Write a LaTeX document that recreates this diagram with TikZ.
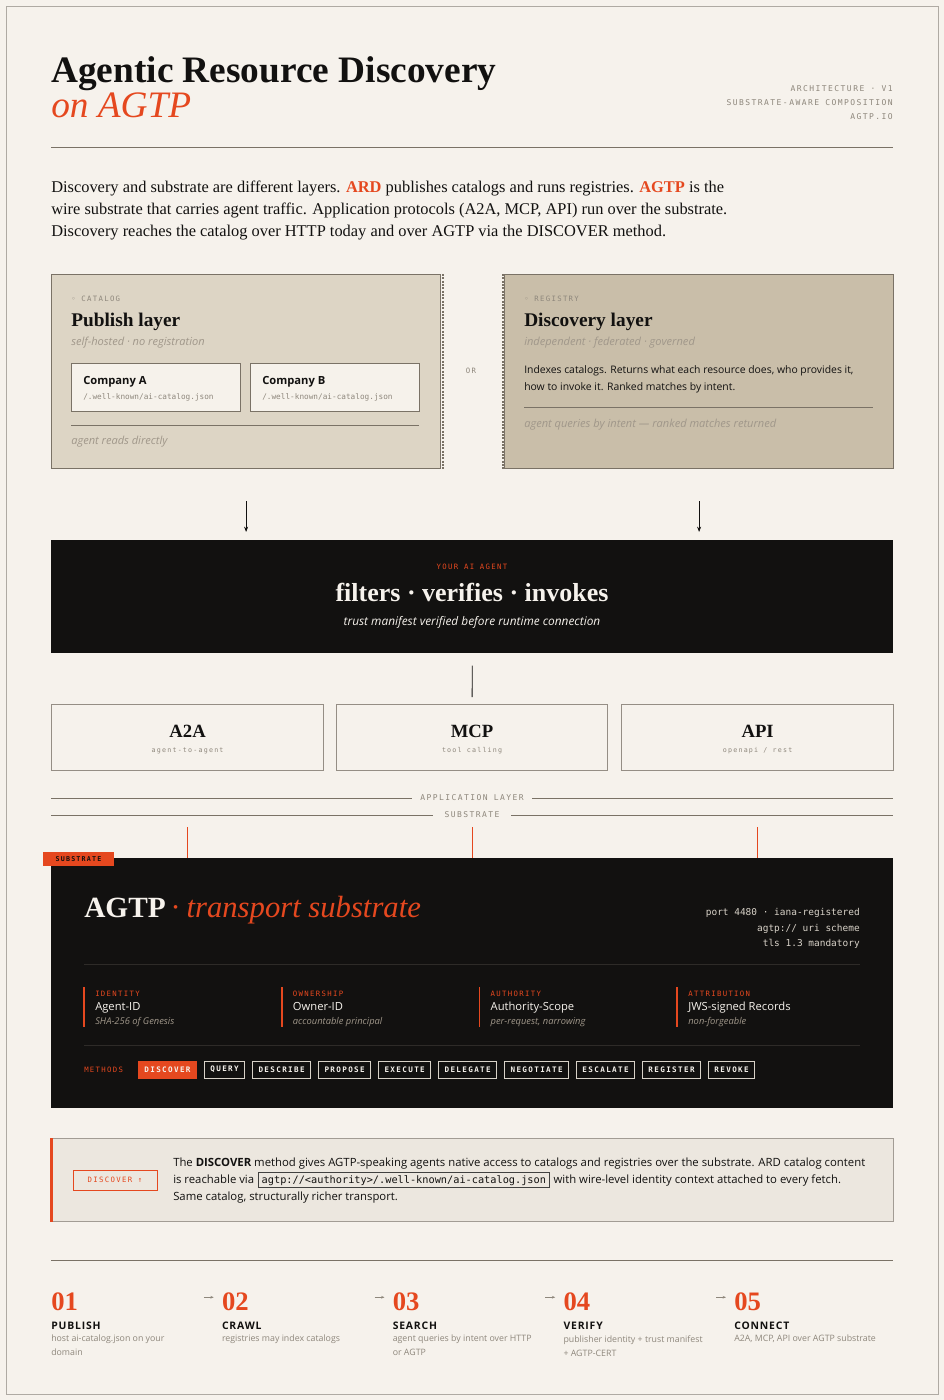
\documentclass[tikz,border=0pt]{standalone}
\usepackage{fontspec}
\setmainfont{Liberation Serif}
\setsansfont{Open Sans}
\setmonofont{DejaVu Sans Mono}
\newfontfamily\spacedmono[LetterSpace=18]{DejaVu Sans Mono}
\newfontfamily\spacedsans[LetterSpace=8]{Open Sans}
\newfontfamily\symbfont{DejaVu Sans}
\usetikzlibrary{positioning,calc,arrows.meta}
\definecolor{paper}{HTML}{F6F2EC}
\definecolor{ink}{HTML}{121110}
\definecolor{accent}{HTML}{E5481F}
\definecolor{catfill}{HTML}{DDD5C5}
\definecolor{regfill}{HTML}{C9BEA9}
\definecolor{card}{HTML}{F6F2EB}
\definecolor{notefill}{HTML}{ECE7DF}
\definecolor{edge}{HTML}{7A7266}
\definecolor{mute}{HTML}{8E877C}
\definecolor{faint}{HTML}{A0978A}
\definecolor{dimline}{HTML}{2E2B28}
\definecolor{lighttext}{HTML}{D8D2C8}
\newcommand\fsz[1]{\fontsize{#1}{#1}\selectfont}
\def\pxu{0.75pt}
\tikzset{
  txt/.style={inner sep=0pt, anchor=base west},
  tagtxt/.style={inner sep=0pt, font=\spacedmono\fsz{5.5}, text=mute},
  panel/.style={draw=edge, line width=1.2*\pxu, anchor=north west, inner sep=0pt},
  cobox/.style={panel, fill=card, minimum width=169*\pxu, minimum height=48*\pxu},
  protobox/.style={panel, fill=paper, draw=edge!80, minimum height=66*\pxu},
  darkbox/.style={anchor=north west, inner sep=0pt, fill=ink, minimum width=842*\pxu},
  methodbox/.style={draw=lighttext, line width=0.8*\pxu, inner xsep=6*\pxu, inner ysep=0pt,
    minimum height=17*\pxu, text=paper, font=\spacedmono\bfseries\fsz{5.7}},
  arr/.style={-{Stealth[length=4pt,width=3pt]}, ink, line width=0.6pt},
  rule/.style={draw=edge, line width=1*\pxu},
  steparr/.style={-{Stealth[length=2.5pt,width=2pt]}, mute, line width=0.5pt},
}
\begin{document}
\begin{tikzpicture}[x=0.75pt,y=-0.75pt]
\fill[paper] (0,0) rectangle (944,1400);
\draw[edge!60, line width=0.6pt] (6,6) rectangle (938,1394);
% header
\node[txt, font=\bfseries\fsz{28}, text=ink] (title) at (51,82) {Agentic Resource Discovery};
\node[txt, font=\itshape\fsz{28}, text=accent] (subtitle) at (51,117) {on AGTP};
\node[tagtxt, font=\spacedmono\fsz{6}, anchor=east] (meta1) at (893,89) {ARCHITECTURE · V1};
\node[tagtxt, font=\spacedmono\fsz{6}, anchor=east] (meta2) at (893,103) {SUBSTRATE-AWARE COMPOSITION};
\node[tagtxt, font=\spacedmono\fsz{6}, anchor=east] (meta3) at (893,117) {AGTP.IO};
\draw[rule] (51,147) -- (893,147);
% intro
\node[txt, font=\fsz{12.3}, text=ink] (intro1) at (51,192) {Discovery and substrate are different layers. \textcolor{accent}{\bfseries ARD} publishes catalogs and runs registries. \textcolor{accent}{\bfseries AGTP} is the};
\node[txt, font=\fsz{12.3}, text=ink] (intro2) at (51,214) {wire substrate that carries agent traffic. Application protocols (A2A, MCP, API) run over the substrate.};
\node[txt, font=\fsz{12.3}, text=ink] (intro3) at (51,236) {Discovery reaches the catalog over HTTP today and over AGTP via the DISCOVER method.};
% catalog / registry
\node[panel, fill=catfill, minimum width=389*\pxu, minimum height=194*\pxu] (catalog) at (51,274) {};
\node[panel, fill=regfill, minimum width=389*\pxu, minimum height=194*\pxu] (registry) at (504,274) {};
\draw[edge, densely dotted, line width=2*\pxu] ([xshift=1.5*\pxu]catalog.north east) -- ([xshift=1.5*\pxu]catalog.south east);
\draw[edge, densely dotted, line width=2*\pxu] ([xshift=-1.5*\pxu]registry.north west) -- ([xshift=-1.5*\pxu]registry.south west);
\node[tagtxt] (ortag) at (471,371) {OR};

\node[tagtxt, anchor=west] (cattag) at (71,299) {{\symbfont ◦} CATALOG};
\node[txt, font=\bfseries\fsz{14.5}, text=ink] (catttl) at (71,326) {Publish layer};
\node[txt, font=\sffamily\itshape\fsz{8.3}, text=faint] (catsub) at (71,345) {self-hosted · no registration};
\node[cobox] (coA) at (71,363) {};
\node[cobox] (coB) at (250,363) {};
\node[txt, font=\sffamily\bfseries\fsz{8.4}, text=ink] (coAname) at ($(coA.north west)+(12,21)$) {Company A};
\node[txt, font=\ttfamily\fsz{5.8}, text=mute] (coApath) at ($(coA.north west)+(12,36)$) {/.well-known/ai-catalog.json};
\node[txt, font=\sffamily\bfseries\fsz{8.4}, text=ink] (coBname) at ($(coB.north west)+(12,21)$) {Company B};
\node[txt, font=\ttfamily\fsz{5.8}, text=mute] (coBpath) at ($(coB.north west)+(12,36)$) {/.well-known/ai-catalog.json};
\draw[rule] (71,425) -- (419,425);
\node[txt, font=\sffamily\itshape\fsz{8.3}, text=faint] (catfoot) at (71,444) {agent reads directly};

\node[tagtxt, anchor=west] (regtag) at (524,299) {{\symbfont ◦} REGISTRY};
\node[txt, font=\bfseries\fsz{14.5}, text=ink] (regttl) at (524,326) {Discovery layer};
\node[txt, font=\sffamily\itshape\fsz{8.3}, text=faint] (regsub) at (524,345) {independent · federated · governed};
\node[txt, font=\sffamily\fsz{7.8}, text=ink] (regtxt1) at (524,373) {Indexes catalogs. Returns what each resource does, who provides it,};
\node[txt, font=\sffamily\fsz{7.8}, text=ink] (regtxt2) at (524,390) {how to invoke it. Ranked matches by intent.};
\draw[rule] (524,407) -- (873,407);
\node[txt, font=\sffamily\itshape\fsz{8.3}, text=faint] (regfoot) at (524,427) {agent queries by intent — ranked matches returned};
% agent
\node[darkbox, minimum height=113*\pxu] (agent) at (51,540) {};
\draw[arr] ($(catalog.south)+(0,32)$) -- ($(catalog.south |- agent.north)+(0,-8)$);
\draw[arr] ($(registry.south)+(0,32)$) -- ($(registry.south |- agent.north)+(0,-8)$);
\node[tagtxt, text=accent] (agenttag) at (472,567) {YOUR AI AGENT};
\node[inner sep=0pt, anchor=base, font=\bfseries\fsz{19.5}, text=paper] (agentttl) at (472,601) {filters · verifies · invokes};
\node[inner sep=0pt, font=\sffamily\itshape\fsz{8.9}, text=paper] (agentsub) at (472,622) {trust manifest verified before runtime connection};
% protocols
\node[protobox, minimum width=272*\pxu] (a2a) at (51,704) {};
\node[protobox, minimum width=271*\pxu] (mcp) at (336,704) {};
\node[protobox, minimum width=272*\pxu] (api) at (621,704) {};
\draw[ink, line width=0.8*\pxu] ($(agent.south)+(0,12)$) -- ($(mcp.north)+(0,-7)$);
\foreach \p/\ptl/\psub in {a2a/A2A/agent-to-agent, mcp/MCP/tool calling, api/API/{openapi / rest}}{
  \node[inner sep=0pt, font=\bfseries\fsz{14}, text=ink] (\p ttl) at ($(\p.center)+(0,-6)$) {\ptl};
  \node[tagtxt, font=\spacedmono\fsz{5}] (\p sub) at ($(\p.center)+(0,13)$) {\psub};
}
% layer rules
\draw[rule] (51,798) -- (893,798);
\node[tagtxt, font=\spacedmono\fsz{6}, fill=paper, inner xsep=8*\pxu] (applbl) at (472,798) {APPLICATION LAYER};
\draw[rule] (51,815) -- (893,815);
\node[tagtxt, font=\spacedmono\fsz{6}, fill=paper, inner xsep=12*\pxu] (sublbl) at (472,815) {SUBSTRATE};
% substrate
\node[darkbox, minimum height=250*\pxu] (subst) at (51,858) {};
\foreach \p in {a2a,mcp,api}{
  \draw[accent, line width=1*\pxu] ($(\p.south)+(0,56)$) -- (\p.south |- subst.north);
}
\node[fill=accent, minimum width=71*\pxu, minimum height=14*\pxu, inner sep=0pt,
  font=\spacedmono\bfseries\fsz{5}, text=ink] (subtag) at (78.5,859) {SUBSTRATE};
\node[txt, font=\bfseries\fsz{22}, text=paper] (agtp) at (84,917) {AGTP};
\node[txt, font=\itshape\fsz{23}, text=accent] (agtpsub) at ($(agtp.base east)+(5,0)$) {· transport substrate};
\node[inner sep=0pt, anchor=east, font=\ttfamily\fsz{7.1}, text=lighttext] (spec1) at (860,913) {port 4480 · iana-registered};
\node[inner sep=0pt, anchor=east, font=\ttfamily\fsz{7.1}, text=lighttext] (spec2) at (860,929) {agtp:// uri scheme};
\node[inner sep=0pt, anchor=east, font=\ttfamily\fsz{7.1}, text=lighttext] (spec3) at (860,944) {tls 1.3 mandatory};
\draw[dimline, line width=1*\pxu] (84,964) -- (860,964);
\draw[dimline, line width=1*\pxu] (84,1045) -- (860,1045);
\foreach \lbl/\ttl/\sub [count=\i] in {IDENTITY/Agent-ID/SHA-256 of Genesis,OWNERSHIP/Owner-ID/accountable principal,AUTHORITY/Authority-Scope/{per-request, narrowing},ATTRIBUTION/JWS-signed Records/non-forgeable}{
  \pgfmathsetmacro\colx{84+(\i-1)*197.7}
  \draw[accent, line width=1.6*\pxu] (\colx,987) -- (\colx,1027);
  \node[tagtxt, text=accent, anchor=base west] (pil\i) at (\colx+11,996) {\lbl};
  \node[txt, font=\sffamily\fsz{8.4}, text=paper] (pilttl\i) at (\colx+11,1010) {\ttl};
  \node[txt, font=\sffamily\itshape\fsz{7}, text=faint] (pilsub\i) at (\colx+11,1024) {\sub};
}
% methods
\node[tagtxt, text=accent, anchor=west] (methlbl) at (84,1069.5) {METHODS};
\node[methodbox, fill=accent, draw=accent, anchor=west] (m0) at (138,1069.5) {DISCOVER};
\foreach \m [count=\i, remember=\i as \j (initially 0)] in {QUERY,DESCRIBE,PROPOSE,EXECUTE,DELEGATE,NEGOTIATE,ESCALATE,REGISTER,REVOKE}{
  \node[methodbox, right=7*\pxu of m\j] (m\i) {\m};
}
% discover note
\node[panel, fill=notefill, draw=edge!70, minimum width=842*\pxu, minimum height=83*\pxu] (note) at (51,1138) {};
\draw[accent, line width=3*\pxu] (note.north west) -- (note.south west);
\node[draw=accent, line width=0.8*\pxu, minimum width=84*\pxu, minimum height=20*\pxu, inner sep=0pt,
  font=\spacedmono\fsz{5.5}, text=accent] (discbtn) at (115,1180) {DISCOVER ↑};
\node[txt, font=\sffamily\fsz{8.5}, text=ink] (note1) at (173,1166) {The \textbf{DISCOVER} method gives AGTP-speaking agents native access to catalogs and registries over the substrate. ARD catalog content};
\node[txt, font=\sffamily\fsz{8.5}, text=ink] (note2a) at (173,1183) {is reachable via};
\node[anchor=base west, draw=ink!80, line width=0.6*\pxu, inner xsep=3*\pxu, inner ysep=2.5*\pxu,
  font=\ttfamily\fsz{7.7}, text=ink] (code) at ($(note2a.base east)+(4,0)$) {agtp://<authority>/.well-known/ai-catalog.json};
\node[txt, font=\sffamily\fsz{8.5}, text=ink] (note2b) at ($(code.base east)+(4,0)$) {with wire-level identity context attached to every fetch.};
\node[txt, font=\sffamily\fsz{8.5}, text=ink] (note3) at (173,1200) {Same catalog, structurally richer transport.};
% steps
\draw[rule] (51,1260) -- (893,1260);
\foreach \n/\ttl/\desc [count=\i] in {01/PUBLISH/{host ai-catalog.json on your\\domain},02/CRAWL/{registries may index catalogs},03/SEARCH/{agent queries by intent over HTTP\\or AGTP},04/VERIFY/{publisher identity + trust manifest\\+ AGTP-CERT},05/CONNECT/{A2A, MCP, API over AGTP substrate}}{
  \pgfmathsetmacro\stepx{51+(\i-1)*170.75}
  \node[txt, font=\bfseries\fsz{20}, text=accent] (num\i) at (\stepx,1310) {\n};
  \node[txt, font=\spacedsans\bfseries\fsz{7.8}, text=ink] (stepttl\i) at (\stepx,1329) {\ttl};
  \node[anchor=north west, inner sep=0pt, align=left, text=mute,
    font=\sffamily\fontsize{6.6}{10.5}\selectfont] (stepdesc\i) at (\stepx,1335) {\desc};
  \ifnum\i>1
    \draw[steparr] ($(num\i.west)+(-18,-4)$) -- ($(num\i.west)+(-8,-4)$);
  \fi
}
\end{tikzpicture}
\end{document}
